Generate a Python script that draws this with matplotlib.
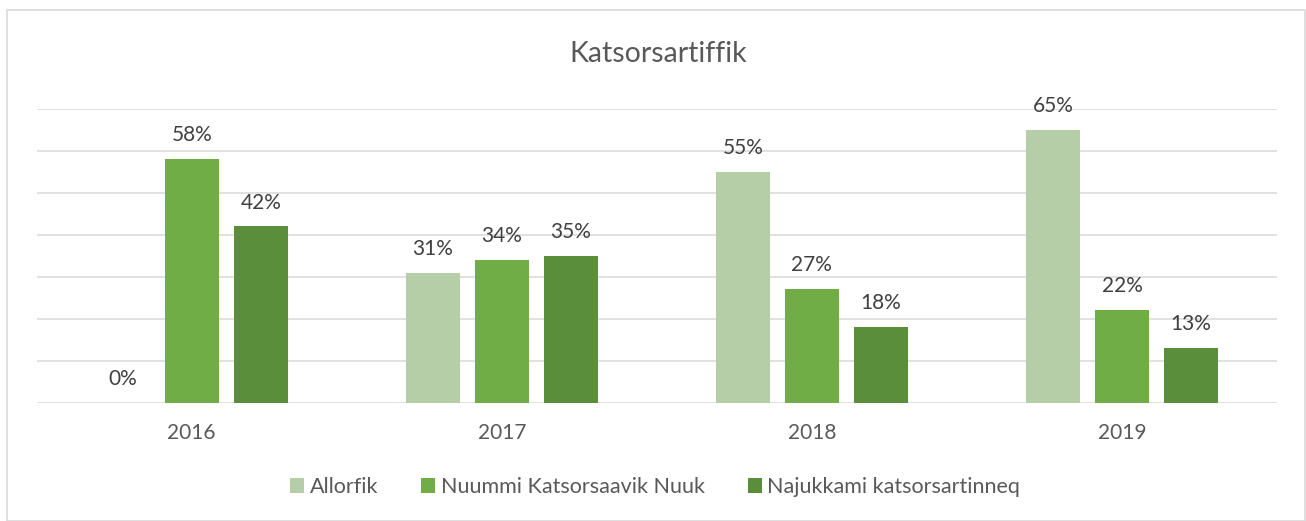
import numpy as np
import matplotlib
matplotlib.use('Agg')
import matplotlib.pyplot as plt
from matplotlib.patches import Rectangle

plt.rcParams['font.family'] = ['Lato', 'DejaVu Sans']

# ── data ──
years = ['2016', '2017', '2018', '2019']
series_names = ['Allorfik', 'Nuummi Katsorsaavik Nuuk', 'Najukkami katsorsartinneq']
allorfik = [0, 31, 55, 65]
nuuk = [58, 34, 27, 22]
najukkami = [42, 35, 18, 13]
colors = ['#B5CEA8', '#70AD47', '#5B8E3A']

# ── figure ──
W, H = 1306, 521
fig = plt.figure(figsize=(W / 100, H / 100), dpi=100)
ax = fig.add_axes([36.7 / W, 1 - 402.5 / H, (1277 - 36.7) / W, (402.5 - 109) / H])

x = np.arange(len(years))
bw = 54 / 310
pitch = 69 / 310
for i, (vals, c) in enumerate(zip([allorfik, nuuk, najukkami], colors)):
    xs = x + (i - 1) * pitch
    ax.bar(xs, vals, width=bw, color=c, label=series_names[i], zorder=3)
    for xi, v in zip(xs, vals):
        ax.annotate(f'{v}%', (xi, v), xytext=(0, 10), textcoords='offset points',
                    ha='center', va='bottom', fontsize=15, color='#404040')

ax.set_xlim(-0.5, 3.5)
ax.set_ylim(0, 70)
ax.set_yticks(np.arange(0, 71, 10))
ax.yaxis.grid(True, color='#D9D9D9', lw=1.1, zorder=0)
ax.set_axisbelow(True)
ax.tick_params(axis='y', left=False, labelleft=False)
ax.tick_params(axis='x', bottom=False, pad=11, labelsize=15, labelcolor='#595959')
ax.set_xticks(x)
ax.set_xticklabels(years)
for s in ax.spines.values():
    s.set_visible(False)

fig.text(658 / W, 1 - 54 / H, 'Katsorsartiffik', ha='center', va='center',
         fontsize=20.5, color='#595959')

leg = fig.legend(loc='center left', bbox_to_anchor=(290 / W, 1 - 487 / H), ncol=3,
                 frameon=False, fontsize=15.5, handlelength=0.65, handleheight=0.65,
                 handletextpad=0.26, columnspacing=2.0, borderpad=0, borderaxespad=0)
for t in leg.get_texts():
    t.set_color('#595959')

# chart area border
fig.patches.append(Rectangle((7 / W, 0), (1305 - 7) / W, 1 - 9.5 / H, transform=fig.transFigure,
                             fill=False, edgecolor='#D9D9D9', lw=1.2))

fig.savefig('out.png', dpi=100)
